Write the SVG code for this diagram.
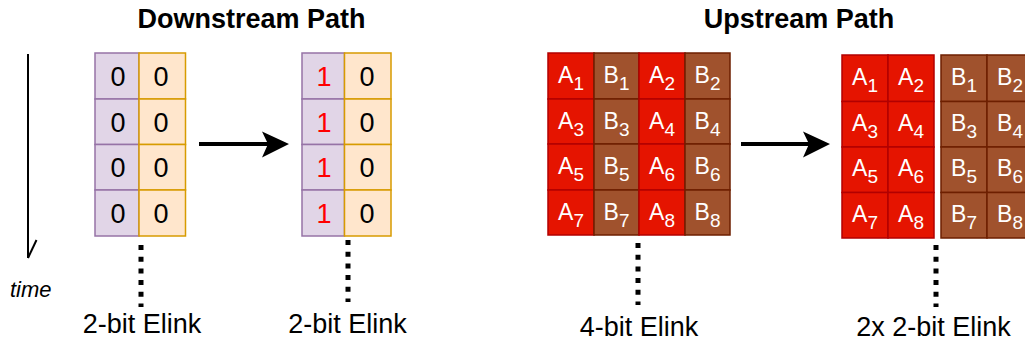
<svg xmlns="http://www.w3.org/2000/svg" width="1025" height="345" viewBox="0 0 1025 345">
<style>
text{font-family:"Liberation Sans",Arial,sans-serif;}
.title{font-size:27px;font-weight:bold;text-anchor:middle;fill:#000;}
.lbl{font-size:27px;text-anchor:middle;fill:#000;}
.dig{font-size:27px;text-anchor:middle;fill:#000;}
.one{fill:#ff0000;}
.cell{font-size:23px;text-anchor:middle;fill:#fff;}
.cell tspan{font-size:19px;}
.pu{fill:#e1d5e7;stroke:#9673a6;stroke-width:1.5;}
.or{fill:#ffe6cc;stroke:#d79b00;stroke-width:1.5;}
.rd{fill:#e51400;stroke:#b20000;stroke-width:1.5;}
.br{fill:#a0522d;stroke:#6d1f00;stroke-width:1.5;}
.dot{stroke:#000;stroke-width:5;stroke-dasharray:5 6.7;fill:none;}
.arr{stroke:#000;stroke-width:4;fill:none;}
</style>
<rect width="1025" height="345" fill="#fff"/>
<text class="title" x="251.5" y="28">Downstream Path</text>
<text class="title" x="799" y="28">Upstream Path</text>

<g id="time-axis">
<line x1="28" y1="54" x2="28" y2="258" stroke="#000" stroke-width="2"/>
<line x1="28" y1="258" x2="36.5" y2="240" stroke="#000" stroke-width="2"/>
<text x="10" y="297" font-size="22" font-style="italic" fill="#000">time</text>
</g>

<g id="ds-before">
<rect class="pu" x="95" y="53" width="44" height="46"/>
<rect class="pu" x="95" y="99" width="44" height="45.5"/>
<rect class="pu" x="95" y="144.5" width="44" height="45.5"/>
<rect class="pu" x="95" y="190" width="44" height="46"/>
<rect class="or" x="139" y="53" width="46.5" height="46"/>
<rect class="or" x="139" y="99" width="46.5" height="45.5"/>
<rect class="or" x="139" y="144.5" width="46.5" height="45.5"/>
<rect class="or" x="139" y="190" width="46.5" height="46"/>
<text class="dig" x="118" y="86">0</text>
<text class="dig" x="161" y="86">0</text>
<text class="dig" x="118" y="131.5">0</text>
<text class="dig" x="161" y="131.5">0</text>
<text class="dig" x="118" y="177">0</text>
<text class="dig" x="161" y="177">0</text>
<text class="dig" x="118" y="222.5">0</text>
<text class="dig" x="161" y="222.5">0</text>
<text class="lbl" x="142" y="333">2-bit Elink</text>
</g>

<g id="ds-after">
<rect class="pu" x="302" y="53" width="42.5" height="46"/>
<rect class="pu" x="302" y="99" width="42.5" height="45.5"/>
<rect class="pu" x="302" y="144.5" width="42.5" height="45.5"/>
<rect class="pu" x="302" y="190" width="42.5" height="46"/>
<rect class="or" x="344.5" y="53" width="46.5" height="46"/>
<rect class="or" x="344.5" y="99" width="46.5" height="45.5"/>
<rect class="or" x="344.5" y="144.5" width="46.5" height="45.5"/>
<rect class="or" x="344.5" y="190" width="46.5" height="46"/>
<text class="dig one" x="324" y="86">1</text>
<text class="dig" x="367" y="86">0</text>
<text class="dig one" x="324" y="131.5">1</text>
<text class="dig" x="367" y="131.5">0</text>
<text class="dig one" x="324" y="177">1</text>
<text class="dig" x="367" y="177">0</text>
<text class="dig one" x="324" y="222.5">1</text>
<text class="dig" x="367" y="222.5">0</text>
<text class="lbl" x="347.5" y="333">2-bit Elink</text>
</g>

<g id="us-before">
<rect class="rd" x="548" y="53" width="46" height="46"/>
<rect class="br" x="594" y="53" width="45" height="46"/>
<rect class="rd" x="639" y="53" width="46" height="46"/>
<rect class="br" x="685" y="53" width="45" height="46"/>
<rect class="rd" x="548" y="99" width="46" height="45"/>
<rect class="br" x="594" y="99" width="45" height="45"/>
<rect class="rd" x="639" y="99" width="46" height="45"/>
<rect class="br" x="685" y="99" width="45" height="45"/>
<rect class="rd" x="548" y="144" width="46" height="46"/>
<rect class="br" x="594" y="144" width="45" height="46"/>
<rect class="rd" x="639" y="144" width="46" height="46"/>
<rect class="br" x="685" y="144" width="45" height="46"/>
<rect class="rd" x="548" y="190" width="46" height="45"/>
<rect class="br" x="594" y="190" width="45" height="45"/>
<rect class="rd" x="639" y="190" width="46" height="45"/>
<rect class="br" x="685" y="190" width="45" height="45"/>
<text class="cell" x="571" y="83">A<tspan dy="7">1</tspan></text>
<text class="cell" x="616.5" y="83">B<tspan dy="7">1</tspan></text>
<text class="cell" x="662" y="83">A<tspan dy="7">2</tspan></text>
<text class="cell" x="707.5" y="83">B<tspan dy="7">2</tspan></text>
<text class="cell" x="571" y="128.5">A<tspan dy="7">3</tspan></text>
<text class="cell" x="616.5" y="128.5">B<tspan dy="7">3</tspan></text>
<text class="cell" x="662" y="128.5">A<tspan dy="7">4</tspan></text>
<text class="cell" x="707.5" y="128.5">B<tspan dy="7">4</tspan></text>
<text class="cell" x="571" y="174">A<tspan dy="7">5</tspan></text>
<text class="cell" x="616.5" y="174">B<tspan dy="7">5</tspan></text>
<text class="cell" x="662" y="174">A<tspan dy="7">6</tspan></text>
<text class="cell" x="707.5" y="174">B<tspan dy="7">6</tspan></text>
<text class="cell" x="571" y="219.5">A<tspan dy="7">7</tspan></text>
<text class="cell" x="616.5" y="219.5">B<tspan dy="7">7</tspan></text>
<text class="cell" x="662" y="219.5">A<tspan dy="7">8</tspan></text>
<text class="cell" x="707.5" y="219.5">B<tspan dy="7">8</tspan></text>
<text class="lbl" x="639" y="336">4-bit Elink</text>
</g>

<g id="us-after-a">
<rect class="rd" x="842" y="55" width="46" height="46.5"/>
<rect class="rd" x="888" y="55" width="46" height="46.5"/>
<rect class="rd" x="842" y="101.5" width="46" height="45.5"/>
<rect class="rd" x="888" y="101.5" width="46" height="45.5"/>
<rect class="rd" x="842" y="147" width="46" height="45.5"/>
<rect class="rd" x="888" y="147" width="46" height="45.5"/>
<rect class="rd" x="842" y="192.5" width="46" height="45.5"/>
<rect class="rd" x="888" y="192.5" width="46" height="45.5"/>
<text class="cell" x="865" y="85">A<tspan dy="7">1</tspan></text>
<text class="cell" x="911" y="85">A<tspan dy="7">2</tspan></text>
<text class="cell" x="865" y="130.5">A<tspan dy="7">3</tspan></text>
<text class="cell" x="911" y="130.5">A<tspan dy="7">4</tspan></text>
<text class="cell" x="865" y="176">A<tspan dy="7">5</tspan></text>
<text class="cell" x="911" y="176">A<tspan dy="7">6</tspan></text>
<text class="cell" x="865" y="221.5">A<tspan dy="7">7</tspan></text>
<text class="cell" x="911" y="221.5">A<tspan dy="7">8</tspan></text>
<text class="lbl" x="933.5" y="336">2x 2-bit Elink</text>
</g>

<g id="us-after-b">
<rect class="br" x="941" y="55" width="46" height="46.5"/>
<rect class="br" x="987" y="55" width="46" height="46.5"/>
<rect class="br" x="941" y="101.5" width="46" height="45.5"/>
<rect class="br" x="987" y="101.5" width="46" height="45.5"/>
<rect class="br" x="941" y="147" width="46" height="45.5"/>
<rect class="br" x="987" y="147" width="46" height="45.5"/>
<rect class="br" x="941" y="192.5" width="46" height="45.5"/>
<rect class="br" x="987" y="192.5" width="46" height="45.5"/>
<text class="cell" x="964" y="85">B<tspan dy="7">1</tspan></text>
<text class="cell" x="1010" y="85">B<tspan dy="7">2</tspan></text>
<text class="cell" x="964" y="130.5">B<tspan dy="7">3</tspan></text>
<text class="cell" x="1010" y="130.5">B<tspan dy="7">4</tspan></text>
<text class="cell" x="964" y="176">B<tspan dy="7">5</tspan></text>
<text class="cell" x="1010" y="176">B<tspan dy="7">6</tspan></text>
<text class="cell" x="964" y="221.5">B<tspan dy="7">7</tspan></text>
<text class="cell" x="1010" y="221.5">B<tspan dy="7">8</tspan></text>
</g>

<g id="connectors">
<line class="arr" x1="199" y1="144" x2="268" y2="144"/>
<polygon points="289,144 262,131.5 268,144 262,157.5" fill="#000"/>
<line class="arr" x1="741" y1="144" x2="809" y2="144"/>
<polygon points="830,144 803,131.5 809,144 803,157.5" fill="#000"/>
<line class="dot" x1="141" y1="245" x2="141" y2="307"/>
<line class="dot" x1="348" y1="240" x2="348" y2="302"/>
<line class="dot" x1="638" y1="243" x2="638" y2="305"/>
<line class="dot" x1="936" y1="245" x2="936" y2="307"/>
</g>
</svg>
